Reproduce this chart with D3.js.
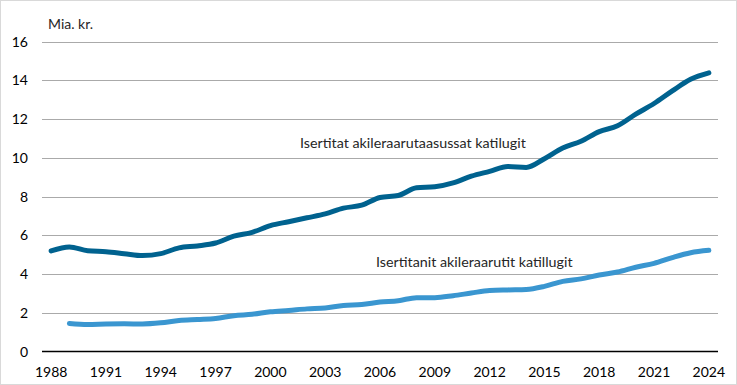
<!DOCTYPE html>
<html>
<head>
<meta charset="utf-8">
<script src="https://cdn.jsdelivr.net/npm/d3@7"></script>
<style>
  body { margin: 0; background: #fff; }
  svg { display: block; font-family: Lato, "Open Sans", sans-serif; }
</style>
</head>
<body>
<svg id="chart" width="737" height="385"></svg>
<script>
/* Data */
var years = d3.range(1988, 2025);
var incomeTotal = [5.19, 5.4, 5.2, 5.15, 5.05, 4.95, 5.05, 5.35, 5.45, 5.6,
    5.95, 6.15, 6.5, 6.7, 6.9, 7.1, 7.4, 7.55, 7.95, 8.05,
    8.45, 8.5, 8.7, 9.05, 9.3, 9.55, 9.5, 9.95, 10.5, 10.85,
    11.35, 11.65, 12.25, 12.8, 13.45, 14.05, 14.38];
// 1988 missing in second series
var taxTotal = [null, 1.45, 1.4, 1.42, 1.43, 1.42, 1.48, 1.6, 1.65, 1.7,
    1.85, 1.92, 2.05, 2.12, 2.2, 2.25, 2.38, 2.42, 2.55, 2.62,
    2.78, 2.78, 2.88, 3.02, 3.15, 3.18, 3.2, 3.36, 3.62, 3.75,
    3.95, 4.1, 4.35, 4.55, 4.85, 5.1, 5.22];
var yTicks = [0, 2, 4, 6, 8, 10, 12, 14, 16];
var xTickYears = [1988, 1991, 1994, 1997, 2000, 2003, 2006, 2009, 2012, 2015, 2018, 2021, 2024];

var svg = d3.select("#chart");
var margin = {left: 42, right: 19, top: 41.5, bottom: 33.5};
var width = +svg.attr("width");
var height = +svg.attr("height");

// frame
svg.append("rect")
    .attr("x", 0.5).attr("y", 0.5)
    .attr("width", width - 1).attr("height", height - 1)
    .attr("fill", "none").attr("stroke", "#d9d9d9");

var x = d3.scaleBand()
    .domain(years)
    .range([margin.left, width - margin.right]);
var y = d3.scaleLinear()
    .domain([0, 16])
    .range([height - margin.bottom, margin.top]);

// gridlines
svg.append("g")
    .selectAll("line")
    .data(yTicks.filter(d => d > 0))
    .enter().append("line")
    .attr("x1", margin.left).attr("x2", width - margin.right)
    .attr("y1", d => Math.round(y(d)) + 0.5).attr("y2", d => Math.round(y(d)) + 0.5)
    .attr("stroke", "#aaaaaa").attr("stroke-width", 1);

// y axis labels
svg.append("g")
    .selectAll("text")
    .data(yTicks)
    .enter().append("text")
    .attr("x", 28)
    .attr("y", d => y(d) + 5)
    .attr("text-anchor", "end")
    .attr("font-size", 14)
    .attr("fill", "#000")
    .text(d => d);

// baseline
svg.append("line")
    .attr("x1", margin.left).attr("x2", width - margin.right)
    .attr("y1", y(0)).attr("y2", y(0))
    .attr("stroke", "#000").attr("stroke-width", 1.5);

// x axis labels
svg.append("g")
    .selectAll("text")
    .data(xTickYears)
    .enter().append("text")
    .attr("x", d => x(d) + x.bandwidth() / 2)
    .attr("y", 377)
    .attr("text-anchor", "middle")
    .attr("font-size", 14)
    .attr("fill", "#000")
    .text(d => d);

svg.append("text")
    .attr("x", 48).attr("y", 29)
    .attr("font-size", 14)
    .attr("fill", "#262626")
    .text("Mia. kr.");

var line = d3.line()
    .defined(d => d[1] != null)
    .x(d => x(d[0]) + x.bandwidth() / 2)
    .y(d => y(d[1]))
    .curve(d3.curveMonotoneX);

svg.append("path")
    .datum(years.map((yr, i) => [yr, taxTotal[i]]))
    .attr("fill", "none")
    .attr("stroke", "#3a96d0")
    .attr("stroke-width", 5)
    .attr("stroke-linecap", "round")
    .attr("stroke-linejoin", "round")
    .attr("d", line);

svg.append("path")
    .datum(years.map((yr, i) => [yr, incomeTotal[i]]))
    .attr("fill", "none")
    .attr("stroke", "#00628f")
    .attr("stroke-width", 5)
    .attr("stroke-linecap", "round")
    .attr("stroke-linejoin", "round")
    .attr("d", line);

// series labels
svg.append("text")
    .attr("x", 300).attr("y", 148)
    .attr("font-size", 14.3)
    .attr("fill", "#262626")
    .text("Isertitat akileraarutaasussat katilugit");

svg.append("text")
    .attr("x", 376).attr("y", 267)
    .attr("font-size", 14.3)
    .attr("fill", "#262626")
    .text("Isertitanit akileraarutit katillugit");
</script>
</body>
</html>
